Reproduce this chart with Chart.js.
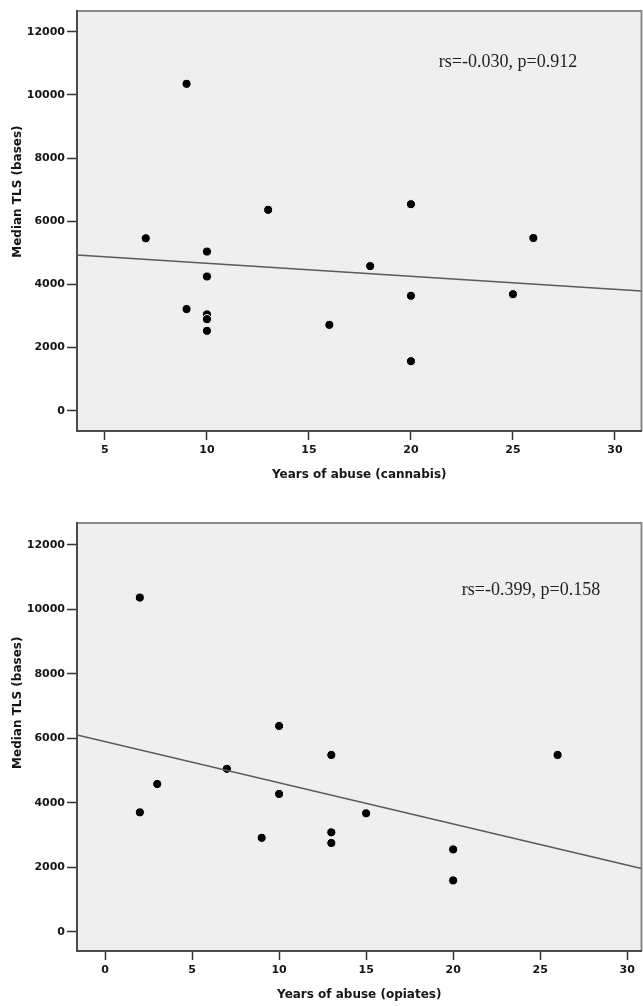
<!DOCTYPE html>
<html>
<head>
<meta charset="utf-8">
<script src="https://cdn.jsdelivr.net/npm/chart.js@4.4.1/dist/chart.umd.min.js"></script>
<style>
  html, body { margin: 0; padding: 0; background: #fff; overflow: hidden; }
  .panel { position: relative; width: 643px; height: 503px; }
</style>
</head>
<body>
<div class="panel"><canvas id="cannabis"></canvas></div>
<div class="panel"><canvas id="opiates"></canvas></div>
<script>
// values
const cannabisYears = [9, 7, 13, 10, 10, 9, 10, 10, 10, 16, 18, 20, 20, 20, 25, 26];
const cannabisTLS = [10350, 5460, 6360, 5040, 4250, 3220, 3050, 2900, 2530, 2720, 4580, 6540, 3640, 1570, 3690, 5470];
const cannabisFit = [{ x: 3.63, y: 4930 }, { x: 31.3, y: 3790 }];

const opiatesYears = [2, 10, 2, 3, 7, 10, 9, 13, 13, 13, 15, 20, 20, 26];
const opiatesTLS = [10360, 6380, 3700, 4580, 5050, 4270, 2910, 5480, 3080, 2750, 3670, 2550, 1590, 5480];
const opiatesFit = [{ x: -1.61, y: 6100 }, { x: 30.82, y: 1960 }];

const cannabisXTicks = [5, 10, 15, 20, 25, 30];
const opiatesXTicks = [0, 5, 10, 15, 20, 25, 30];
const yTicks = [0, 2000, 4000, 6000, 8000, 10000, 12000];

const TEXT = "#151515";
const tickFont = { family: "DejaVu Sans", weight: "bold", size: 11 };
const titleFont = { family: "DejaVu Sans", weight: "bold", size: 12 };

// plot background, frame, rotated y title and the rs/p note
const panelPlugin = {
    id: "panel",
    beforeDraw(chart, args, opts) {
        const { ctx, chartArea: a } = chart;
        ctx.save();
        ctx.fillStyle = "#efefef";
        ctx.fillRect(a.left, a.top, a.right - a.left, a.bottom - a.top);
        ctx.strokeStyle = "#8a8a8a";
        ctx.lineWidth = 2;
        ctx.beginPath();
        ctx.moveTo(a.left, a.top);
        ctx.lineTo(a.right, a.top);
        ctx.lineTo(a.right, a.bottom);
        ctx.stroke();
        ctx.restore();
    },
    afterDraw(chart, args, opts) {
        const { ctx, chartArea: a } = chart;
        ctx.save();
        ctx.fillStyle = TEXT;
        ctx.font = "bold 12px 'DejaVu Sans'";
        ctx.textAlign = "center";
        ctx.textBaseline = "middle";
        ctx.translate(18, a.top + (a.bottom - a.top) * opts.yTitlePos);
        ctx.rotate(-Math.PI / 2);
        ctx.fillText(opts.yTitle, 0, 0);
        ctx.restore();

        ctx.save();
        ctx.fillStyle = "#222";
        ctx.font = "18px 'Liberation Serif'";
        ctx.textAlign = "center";
        ctx.textBaseline = "middle";
        ctx.fillText(opts.note, a.left + opts.noteX, a.top + opts.noteY);
        ctx.restore();
    },
};

function makeChart(id, cfg) {
    const points = cfg.years.map((x, i) => ({ x: x, y: cfg.tls[i] }));
    return new Chart(document.getElementById(id), {
        type: "scatter",
        data: {
            datasets: [
                {
                    type: "line",
                    data: cfg.fit,
                    borderColor: "#5a5a5a",
                    borderWidth: 1.5,
                    pointRadius: 0,
                    showLine: true,
                    fill: false,
                },
                {
                    data: points,
                    pointRadius: 4.6,
                    pointBackgroundColor: "#000",
                    pointBorderColor: "#fff",
                    pointBorderWidth: 1,
                },
            ],
        },
        options: {
            responsive: true,
            maintainAspectRatio: false,
            animation: false,
            layout: { autoPadding: false, padding: { top: cfg.padTop, right: 1.5, left: 0, bottom: 0 } },
            plugins: {
                legend: { display: false },
                tooltip: { enabled: false },
                panel: {
                    yTitle: "Median TLS (bases)",
                    yTitlePos: cfg.yTitlePos,
                    note: cfg.note,
                    noteX: cfg.noteX,
                    noteY: cfg.noteY,
                },
            },
            scales: {
                x: {
                    type: "linear",
                    min: cfg.xMin,
                    max: cfg.xMax,
                    afterBuildTicks: (s) => { s.ticks = cfg.xTicks.map((v) => ({ value: v })); },
                    afterFit: (s) => { s.height = cfg.xHeight; s.paddingRight = 0; },
                    ticks: { font: tickFont, color: TEXT, padding: 3.5, maxRotation: 0, callback: (v) => String(v) },
                    grid: { drawOnChartArea: false, tickLength: 9, tickColor: "#333", tickWidth: 1.5 },
                    border: { color: "#4a4a4a", width: 2 },
                    title: { display: true, text: cfg.xTitle, font: titleFont, color: TEXT, padding: { top: 0, bottom: cfg.xTitlePad } },
                },
                y: {
                    type: "linear",
                    min: cfg.yMin,
                    max: cfg.yMax,
                    afterBuildTicks: (s) => { s.ticks = yTicks.map((v) => ({ value: v })); },
                    afterFit: (s) => { s.width = 77; },
                    ticks: { font: tickFont, color: TEXT, padding: 2, callback: (v) => String(v) },
                    grid: { drawOnChartArea: false, tickLength: 10, tickColor: "#333", tickWidth: 1.5 },
                    border: { color: "#4a4a4a", width: 2 },
                },
            },
        },
        plugins: [panelPlugin],
    });
}

makeChart("cannabis", {
    years: cannabisYears,
    tls: cannabisTLS,
    fit: cannabisFit,
    xTicks: cannabisXTicks,
    xMin: 3.63,
    xMax: 31.3,
    yMin: -640,
    yMax: 12655,
    padTop: 11,
    xHeight: 72,
    xTitle: "Years of abuse (cannabis)",
    xTitlePad: 20.8,
    yTitlePos: 0.43,
    note: "rs=-0.030, p=0.912",
    noteX: 431,
    noteY: 51,
});

makeChart("opiates", {
    years: opiatesYears,
    tls: opiatesTLS,
    fit: opiatesFit,
    xTicks: opiatesXTicks,
    xMin: -1.61,
    xMax: 30.82,
    yMin: -600,
    yMax: 12674,
    padTop: 20,
    xHeight: 55,
    xTitle: "Years of abuse (opiates)",
    xTitlePad: 3.8,
    yTitlePos: 0.42,
    note: "rs=-0.399, p=0.158",
    noteX: 454,
    noteY: 67,
});
</script>
</body>
</html>
